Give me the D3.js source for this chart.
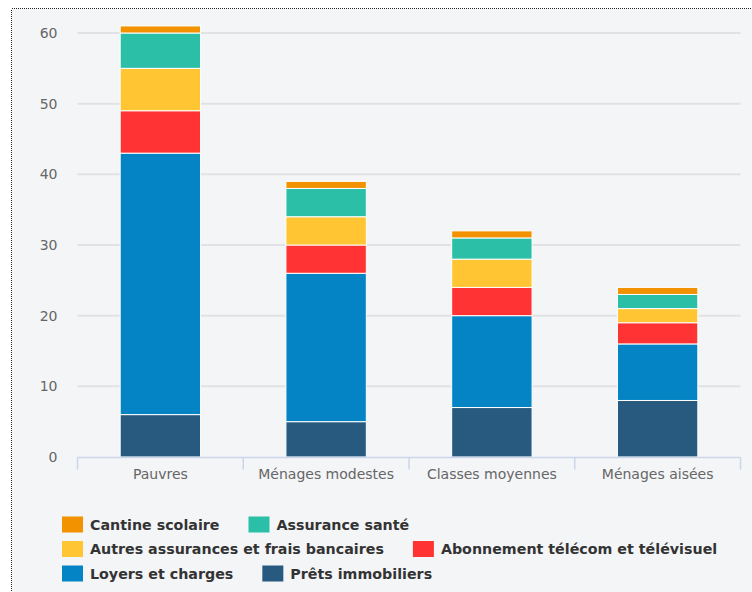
<!DOCTYPE html>
<html>
<head>
<meta charset="utf-8">
<script src="https://cdn.jsdelivr.net/npm/d3@7"></script>
<style>
  html, body { margin: 0; padding: 0; background: #ffffff; }
  svg { display: block; }
</style>
</head>
<body>
<svg id="chart" width="752" height="592"></svg>
<script>
// Household groups on the x axis
const categories = ["Pauvres", "Ménages modestes", "Classes moyennes", "Ménages aisées"];

// Expense series, from the bottom of each stack to the top
const seriesNames = [
  "Prêts immobiliers",
  "Loyers et charges",
  "Abonnement télécom et télévisuel",
  "Autres assurances et frais bancaires",
  "Assurance santé",
  "Cantine scolaire"
];
const pretsImmobiliers   = [6, 5, 7, 8];
const loyersCharges      = [37, 21, 13, 8];
const abonnementTelecom  = [6, 4, 4, 3];
const autresAssurances   = [6, 4, 4, 2];
const assuranceSante     = [5, 4, 3, 2];
const cantineScolaire    = [1, 1, 1, 1];
const seriesColors = ["#285a80", "#0484c4", "#ff3333", "#ffc533", "#2bbfa8", "#f39200"];

// Legend order, as read top-left to bottom-right
const legendOrder = [5, 4, 3, 2, 1, 0];
const yTicks = [0, 10, 20, 30, 40, 50, 60];

const seriesValues = [pretsImmobiliers, loyersCharges, abonnementTelecom,
                      autresAssurances, assuranceSante, cantineScolaire];
const rows = categories.map((c, i) => {
  const r = { category: c };
  seriesNames.forEach((s, k) => { r[s] = seriesValues[k][i]; });
  return r;
});

const labelFont = "'DejaVu Sans', sans-serif";
const svg = d3.select("#chart");

// Panel background with dotted frame
svg.append("rect")
  .attr("x", 11.5).attr("y", 8.5)
  .attr("width", 760).attr("height", 600)
  .attr("fill", "#f4f5f7")
  .attr("stroke", "#222")
  .attr("stroke-width", 1)
  .attr("stroke-dasharray", "1,1")
  .attr("shape-rendering", "crispEdges");

const plot = { left: 77.5, right: 740.5, top: 33, bottom: 457 };

const x = d3.scaleBand()
  .domain(categories)
  .range([plot.left, plot.right])
  .paddingInner(0.515)
  .paddingOuter(0.2575);

const y = d3.scaleLinear()
  .domain([0, 60])
  .range([plot.bottom, plot.top]);

// Horizontal grid
svg.append("g")
  .selectAll("line")
  .data(yTicks.filter(t => t > 0))
  .join("line")
  .attr("x1", plot.left).attr("x2", plot.right)
  .attr("y1", d => y(d)).attr("y2", d => y(d))
  .attr("stroke", "#e1e2e5")
  .attr("stroke-width", 2);

// Y tick labels
const yAxis = d3.axisLeft(y).tickValues(yTicks).tickSize(0).tickPadding(0);
const gy = svg.append("g")
  .attr("transform", `translate(${plot.left - 20},0)`)
  .call(yAxis);
gy.select(".domain").remove();
gy.selectAll("text")
  .attr("font-family", labelFont)
  .attr("font-size", 14)
  .attr("fill", "#666");

// Stacked bars
const stack = d3.stack().keys(seriesNames);
const layers = stack(rows);

svg.append("g")
  .selectAll("g")
  .data(layers)
  .join("g")
  .attr("fill", (d, i) => seriesColors[i])
  .selectAll("rect")
  .data(d => d)
  .join("rect")
  .attr("x", d => x(d.data.category))
  .attr("width", x.bandwidth())
  .attr("y", d => y(d[1]))
  .attr("height", d => y(d[0]) - y(d[1]))
  .attr("stroke", "#ffffff")
  .attr("stroke-width", 1);

// X axis: line, boundary ticks and category labels
const xAxis = d3.axisBottom(x).tickSize(0).tickPadding(12);
const gx = svg.append("g")
  .attr("transform", `translate(0,${plot.bottom + 0.5})`)
  .call(xAxis);
gx.select(".domain")
  .attr("stroke", "#ccd6eb")
  .attr("stroke-width", 1.5)
  .attr("d", `M${plot.left},0H${plot.right}`);
gx.selectAll("text")
  .attr("font-family", labelFont)
  .attr("font-size", 14)
  .attr("fill", "#666");

const step = x.step();
const boundaries = d3.range(categories.length + 1)
  .map(i => x(categories[0]) - x.paddingOuter() * step + i * step);
gx.selectAll("line.boundary")
  .data(boundaries)
  .join("line")
  .attr("class", "boundary")
  .attr("x1", d => d).attr("x2", d => d)
  .attr("y1", 0).attr("y2", 12)
  .attr("stroke", "#ccd6eb")
  .attr("stroke-width", 1.5);

// Legend with flowing layout
const legend = svg.append("g");
const legendLeft = 62, legendMaxRight = 745, rowHeight = 24.5, firstRowY = 516.5;
const symbolW = 21, symbolH = 16, textGap = 7, itemGap = 29;
let cx = legendLeft, cy = firstRowY;
legendOrder.forEach(k => {
  const item = legend.append("g");
  const label = item.append("text")
    .attr("x", symbolW + textGap)
    .attr("y", symbolH / 2)
    .attr("dy", "0.36em")
    .attr("font-family", labelFont)
    .attr("font-weight", "bold")
    .attr("font-size", 14.25)
    .attr("fill", "#333")
    .text(seriesNames[k]);
  const w = symbolW + textGap + label.node().getComputedTextLength();
  if (cx > legendLeft && cx + w > legendMaxRight) {
    cx = legendLeft;
    cy += rowHeight;
  }
  item.attr("transform", `translate(${cx},${cy})`);
  item.insert("rect", "text")
    .attr("width", symbolW).attr("height", symbolH)
    .attr("fill", seriesColors[k]);
  cx += w + itemGap;
});
</script>
</body>
</html>
